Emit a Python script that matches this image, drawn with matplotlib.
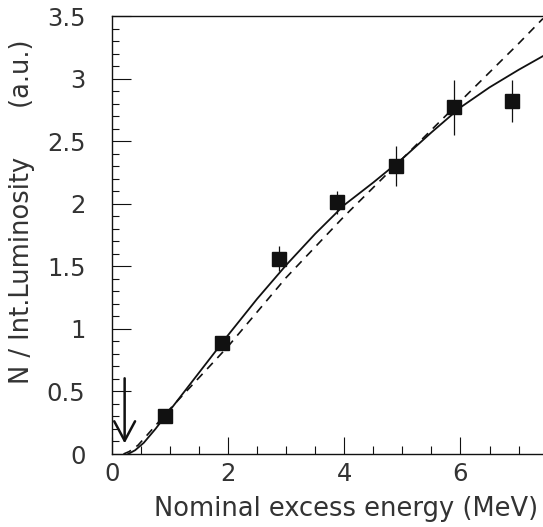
import matplotlib
matplotlib.use("Agg")
import matplotlib.pyplot as plt
from matplotlib.ticker import MultipleLocator, FuncFormatter

# Data points
x_data = [0.91, 1.90, 2.87, 3.88, 4.89, 5.89, 6.88]
y_data = [0.30, 0.886, 1.56, 2.01, 2.30, 2.77, 2.82]
y_err = [0.03, 0.03, 0.10, 0.09, 0.16, 0.22, 0.17]

# Solid curve
x_solid = [0.28, 0.40, 0.55, 0.75, 0.95, 1.5, 2.0, 2.5, 3.0, 3.5, 4.0, 4.5, 5.0, 5.5, 6.0, 6.5, 7.0, 7.42]
y_solid = [0.0, 0.03, 0.09, 0.20, 0.32, 0.65, 0.95, 1.24, 1.51, 1.76, 1.99, 2.17, 2.36, 2.57, 2.77, 2.93, 3.07, 3.18]

# Dashed curve
x_dash = [0.20, 0.30, 0.45, 0.70, 1.0, 1.5, 2.0, 3.0, 4.0, 5.0, 6.0, 7.0, 7.42]
y_dash = [0.0, 0.02, 0.07, 0.20, 0.36, 0.61, 0.86, 1.41, 1.90, 2.36, 2.82, 3.28, 3.48]

# Threshold arrow
arrow_x = 0.22
arrow_y_start = 0.605
arrow_y_end = 0.085

xlabel = 'Nominal excess energy (MeV)'
ylabel = 'N / Int.Luminosity      (a.u.)'

plt.rcParams['font.family'] = ['DejaVu Sans']
fig = plt.figure(figsize=(5.43, 5.27), dpi=100)
ax = fig.add_axes([0.206, 0.1385, 0.794, 0.8311])

ink = '#111111'
txt = '#333333'
ax.plot(x_solid, y_solid, color=ink, lw=1.3)
ax.plot(x_dash, y_dash, color=ink, lw=1.2, dashes=(5, 4))
ax.errorbar(x_data, y_data, yerr=y_err, fmt='s', color=ink, ms=9.5,
            elinewidth=0.9, capsize=0, zorder=5)

ax.annotate('', xy=(arrow_x, arrow_y_end), xytext=(arrow_x, arrow_y_start),
            arrowprops=dict(arrowstyle='->,head_length=1.4,head_width=0.75',
                            lw=1.8, color=ink, shrinkA=0, shrinkB=0))

ax.set_xlim(0, 7.42)
ax.set_ylim(0, 3.5)

ax.xaxis.set_major_locator(MultipleLocator(2))
ax.xaxis.set_minor_locator(MultipleLocator(0.5))
ax.yaxis.set_major_locator(MultipleLocator(0.5))
ax.yaxis.set_minor_locator(MultipleLocator(0.1))
ax.yaxis.set_major_formatter(FuncFormatter(lambda v, p: f"{v:g}"))

ax.tick_params(which='both', direction='in', top=False, right=False,
               labelsize=17.5, colors=ink, labelcolor=txt)
ax.tick_params(axis='y', which='major', length=14, width=0.8, pad=19)
ax.tick_params(axis='y', which='minor', length=5, width=0.8)
ax.tick_params(axis='x', which='major', length=12, width=0.8, pad=6)
ax.tick_params(axis='x', which='minor', length=6, width=0.8)

ax.spines['right'].set_visible(False)
for s in ['left', 'bottom', 'top']:
    ax.spines[s].set_linewidth(1.0)
    ax.spines[s].set_color(ink)

fig.text(346 / 543, 1 - 516 / 527, xlabel, fontsize=18.5, color=txt,
         ha='center', va='baseline')
fig.text(22 / 543, 1 - 212 / 527, ylabel, fontsize=18.5, color=txt,
         ha='center', va='center', rotation=90)

fig.savefig('out.png', dpi=100)
